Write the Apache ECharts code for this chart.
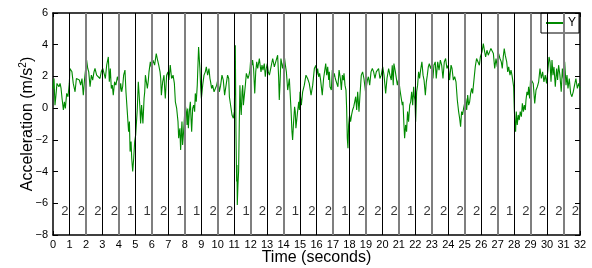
<!DOCTYPE html>
<html>
<head>
<meta charset="utf-8">
<script src="https://cdn.jsdelivr.net/npm/echarts@6/dist/echarts.min.js"></script>
<style>
  html, body { margin: 0; padding: 0; background: #fff; }
  #chart { width: 592px; height: 268px; }
</style>
</head>
<body>
<div id="chart"></div>
<script>
// time (s) and Y acceleration (m/s^2)
var times = [
  0.00, 0.06, 0.12, 0.18, 0.24, 0.30, 0.36, 0.43, 0.49, 0.55, 0.63, 0.69, 0.75, 0.83, 0.91, 0.99,
  1.03, 1.09, 1.15, 1.23, 1.34, 1.42, 1.50, 1.60, 1.68, 1.76, 1.84, 1.92,
  2.04, 2.11, 2.17, 2.25, 2.33, 2.41, 2.49, 2.55, 2.65, 2.73, 2.85, 2.93,
  3.02, 3.10, 3.18, 3.26, 3.36, 3.42, 3.48, 3.54, 3.60, 3.66, 3.74, 3.82, 3.91, 3.99,
  4.05, 4.11, 4.17, 4.23, 4.29, 4.37, 4.43, 4.51, 4.59, 4.64, 4.68, 4.74, 4.78, 4.84, 4.90, 4.96,
  5.02, 5.12, 5.18, 5.22, 5.28, 5.32, 5.38, 5.46, 5.53, 5.57, 5.61, 5.67, 5.73, 5.79, 5.83, 5.91, 5.97,
  6.07, 6.17, 6.27, 6.33, 6.42, 6.50, 6.54, 6.58, 6.66, 6.74, 6.78, 6.82, 6.90, 6.98,
  7.04, 7.12, 7.20, 7.29, 7.37, 7.43, 7.51, 7.59, 7.63, 7.67, 7.71, 7.73, 7.75, 7.79, 7.83, 7.87, 7.93, 7.99,
  8.03, 8.10, 8.14, 8.18, 8.22, 8.28, 8.34, 8.38, 8.42, 8.48, 8.54, 8.60, 8.64, 8.70, 8.76, 8.84, 8.92, 8.97,
  9.01, 9.09, 9.17, 9.25, 9.31, 9.39, 9.47, 9.53, 9.57, 9.63, 9.69, 9.78, 9.86, 9.94,
  10.02, 10.10, 10.18, 10.26, 10.34, 10.42, 10.50, 10.60, 10.67, 10.71, 10.79, 10.87, 10.95,
  11.01, 11.07, 11.11, 11.15, 11.17, 11.19, 11.23, 11.27, 11.31, 11.35, 11.39, 11.43, 11.48, 11.52, 11.56, 11.62, 11.68, 11.74, 11.80, 11.84, 11.90, 11.96,
  12.02, 12.08, 12.12, 12.18, 12.25, 12.31, 12.37, 12.43, 12.53, 12.59, 12.63, 12.69, 12.75, 12.79, 12.83, 12.89, 12.95,
  13.01, 13.07, 13.14, 13.24, 13.34, 13.44, 13.54, 13.64, 13.70, 13.74, 13.78, 13.84, 13.94,
  14.05, 14.11, 14.17, 14.25, 14.31, 14.35, 14.45, 14.51, 14.55, 14.61, 14.67, 14.71, 14.75, 14.84, 14.92, 14.96,
  15.00, 15.08, 15.16, 15.26, 15.36, 15.46, 15.56, 15.67, 15.77, 15.87, 15.97,
  16.01, 16.07, 16.13, 16.19, 16.25, 16.35, 16.43, 16.56, 16.62, 16.68, 16.74, 16.78, 16.82, 16.90, 16.96,
  17.02, 17.08, 17.14, 17.20, 17.26, 17.30, 17.37, 17.45, 17.51, 17.57, 17.63, 17.67, 17.73, 17.79, 17.83, 17.87, 17.91, 17.95,
  18.01, 18.07, 18.13, 18.19, 18.26, 18.32, 18.38, 18.44, 18.50, 18.58, 18.64, 18.72, 18.80, 18.88, 18.98,
  19.09, 19.15, 19.23, 19.31, 19.39, 19.47, 19.55, 19.63, 19.69, 19.77, 19.85, 19.93,
  20.02, 20.10, 20.20, 20.28, 20.38, 20.46, 20.54, 20.60, 20.66, 20.70, 20.79, 20.91, 20.99,
  21.07, 21.15, 21.21, 21.25, 21.31, 21.35, 21.41, 21.47, 21.53, 21.59, 21.66, 21.72, 21.78, 21.84, 21.90, 21.94, 21.98,
  22.02, 22.08, 22.14, 22.20, 22.26, 22.32, 22.40, 22.47, 22.53, 22.61, 22.67, 22.73, 22.79, 22.85, 22.93,
  23.01, 23.07, 23.13, 23.21, 23.27, 23.36, 23.44, 23.52, 23.60, 23.68, 23.76, 23.84, 23.92,
  24.00, 24.08, 24.17, 24.23, 24.31, 24.39, 24.47, 24.55, 24.63, 24.69, 24.75, 24.81, 24.87, 24.93, 24.99,
  25.06, 25.12, 25.18, 25.24, 25.30, 25.36, 25.42, 25.48, 25.56, 25.64, 25.72, 25.80, 25.89, 25.95,
  26.05, 26.13, 26.21, 26.27, 26.35, 26.43, 26.51, 26.59, 26.65, 26.74, 26.82, 26.90, 26.98,
  27.06, 27.14, 27.22, 27.28, 27.34, 27.40, 27.46, 27.55, 27.61, 27.67, 27.75, 27.81, 27.87, 27.93, 27.97,
  28.01, 28.05, 28.09, 28.13, 28.19, 28.25, 28.31, 28.37, 28.44, 28.50, 28.56, 28.62, 28.68, 28.72, 28.78, 28.84, 28.88, 28.94,
  29.00, 29.08, 29.16, 29.25, 29.33, 29.41, 29.49, 29.57, 29.65, 29.73, 29.81, 29.89, 29.97,
  30.05, 30.12, 30.18, 30.24, 30.30, 30.36, 30.42, 30.50, 30.58, 30.64, 30.70, 30.78, 30.86, 30.93, 30.99,
  31.07, 31.15, 31.21, 31.27, 31.35, 31.43, 31.51, 31.59, 31.67, 31.75, 31.84, 31.92, 32.00
];
var accY = [
  1.24, 1.87, 0.19, 0.82, 1.56, 1.66, 1.35, 1.56, 1.24, 0.61, -0.12, 0.40, -0.02, 0.93, 0.72, 1.56,
  2.50, 2.40, 2.29, 1.56, 1.03, 1.87, 1.98, 1.77, 1.45, 1.87, 0.82, 1.87,
  3.03, 2.50, 2.29, 1.35, 2.08, 1.77, 2.29, 2.50, 2.08, 2.19, 1.87, 2.29,
  2.50, 2.19, 1.87, 2.71, 3.23, 1.66, 2.50, 1.24, 1.45, 0.82, 1.66, 1.45, 1.98, 1.66,
  1.03, 1.56, 1.03, 1.35, 2.08, 2.40, 1.03, -0.22, -1.48, -0.85, -2.74, -2.11, -3.16, -4.00, -3.16, -2.11,
  -1.69, -0.02, 1.66, 1.03, -0.02, -0.96, 0.19, -0.96, 0.61, 1.03, 2.08, 2.19, 1.24, 1.77, 2.29, 2.92, 2.60,
  3.03, 2.71, 3.44, 3.13, 2.71, 2.29, 1.87, 0.82, 1.66, 2.08, 1.24, 0.61, 2.08, 2.29,
  1.77, 2.71, 1.87, 2.08, 1.56, 0.40, -0.02, -0.85, -1.90, -1.48, -1.27, -2.11, -2.64, -1.69, -0.85, -2.32, -1.48, -0.43,
  0.19, -0.22, -1.06, -0.02, -1.27, -0.22, 0.40, -0.64, -1.48, -0.02, 0.19, -0.22, 0.93, 0.40, 1.45, 3.86, 2.50, 1.24,
  0.61, 1.45, 2.08, 2.29, 2.60, 2.08, 2.50, 1.87, 1.66, 1.24, 1.45, 1.03, 1.24, 1.45,
  1.87, 1.03, 1.45, 2.08, 1.77, 0.82, 0.82, 2.08, 1.87, 0.72, 0.82, -0.43, -0.64,
  -0.22, 3.97, -1.48, -4.63, -3.58, -6.10, -4.84, -4.00, -1.06, 1.45, 0.19, -0.43, 1.03, 1.45, 0.19, 0.82, 1.45, 2.19, 2.29, 1.87, 2.08, 2.40,
  3.34, 2.71, 3.03, 2.50, 0.93, 2.29, 2.92, 2.50, 3.13, 2.60, 2.29, 2.71, 2.40, 2.60, 2.81, 1.98, 2.50,
  2.81, 2.29, 2.08, 2.60, 3.13, 2.60, 2.50, 3.34, 1.98, 0.51, 1.45, 3.13, 2.50,
  3.23, 2.71, 2.29, 1.14, 1.56, 1.87, -0.02, -1.48, -2.01, -0.85, 0.09, -0.22, -1.27, -0.33, 0.40, -0.12,
  1.03, 0.19, 1.03, 1.45, 2.08, 1.87, 1.56, 0.82, 1.45, 2.50, 2.71,
  2.08, 2.50, 1.98, 2.19, 1.77, 0.82, 1.87, 2.81, 2.08, 2.60, 1.77, 2.29, 1.35, 1.14, 2.40,
  1.87, 2.19, 1.87, 1.77, 1.98, 1.35, 2.40, 1.87, 1.14, 2.08, 1.77, 2.19, 1.45, 1.14, -0.02, -1.90, -2.53, -1.06,
  -0.43, -0.85, -0.43, -0.12, 0.09, 0.40, 0.72, -0.12, 1.03, -0.22, 0.82, 2.08, 2.29, 1.87, 1.03,
  1.77, 1.98, 1.45, 2.29, 2.50, 2.29, 1.87, 2.29, 2.40, 2.50, 1.87, 2.08,
  2.60, 2.08, 0.93, 1.87, 2.50, 2.08, 1.77, 2.71, 1.45, 2.81, 2.29, 1.45, 1.87,
  1.14, 1.03, 0.19, 0.40, -1.06, -1.90, -1.06, -1.48, -0.22, -0.85, 0.19, 0.40, 1.03, 0.19, 1.35, 0.72, 0.51,
  -0.85, 1.03, 1.45, 2.29, 1.87, 2.40, 2.92, 2.08, 1.77, 0.82, 1.66, 2.08, 2.60, 2.81, 2.50,
  2.81, 1.87, 2.71, 2.92, 1.87, 2.92, 2.40, 3.03, 2.71, 1.87, 2.92, 3.13, 2.50,
  2.71, 1.77, 2.71, 2.50, 1.77, 1.98, 1.66, 0.51, -0.22, -0.64, -1.17, -0.22, -0.43, -0.02, 0.09,
  0.61, -0.12, 0.82, 0.19, 0.40, 0.93, 1.24, 0.93, 1.77, 2.60, 3.13, 3.03, 2.71, 3.23,
  3.55, 4.07, 3.55, 3.23, 3.65, 3.34, 3.55, 3.76, 3.65, 3.44, 2.50, 3.13, 2.60,
  3.44, 3.13, 2.92, 2.50, 3.23, 3.76, 3.34, 2.92, 2.29, 2.60, 2.08, 2.40, 2.08, 1.66, 1.35,
  -0.02, -1.06, -1.48, -0.22, -1.06, -0.43, -0.75, -0.22, -0.54, 0.30, -0.22, 0.19, -0.12, 0.51, 1.03, 0.82, 1.35, 0.61,
  1.87, 1.98, 1.56, 0.30, 1.14, 1.35, 1.66, 2.50, 1.87, 2.29, 1.66, 2.08, 1.56,
  2.40, 3.23, 2.92, 1.66, 3.03, 2.08, 2.60, 1.35, 2.50, 1.77, 2.71, 2.08, 1.03, 2.50, 1.87,
  2.92, 1.45, 2.08, 1.24, 1.87, 0.93, 0.72, 1.03, 1.45, 1.87, 1.24, 1.56, 1.24
];
// activity class written in each 1-second window
var segLabels = [2, 2, 2, 2, 1, 1, 2, 1, 1, 2, 2, 1, 2, 2, 1, 2, 2, 1, 2, 2, 2, 1, 2, 2, 2, 2, 2, 1, 2, 2, 2, 2];
var boundaries = [];
for (var b = 1; b <= 31; b++) boundaries.push(b);
var labelLevel = -6.5;
var labelShift = 0.72;

var fontFam = "'Liberation Sans', Arial, sans-serif";
var signal = times.map(function (t, i) { return [t, accY[i]]; });

var boundaryLines = boundaries.map(function (b) {
    // black and grey window edges alternate, the pattern flips after 15 s
    var dark = b <= 15 ? (b % 2 === 1) : (b % 2 === 0);
    return {
        xAxis: b,
        lineStyle: dark ? { color: '#000', width: 1, type: 'solid' } : { color: '#7f7f7f', width: 2, type: 'solid' }
    };
});

var labelPts = segLabels.map(function (c, i) { return [i + labelShift, labelLevel, c]; });

var myChart = echarts.init(document.getElementById('chart'), null, { renderer: 'canvas' });
var axisTxt = { color: '#000', fontSize: 11, fontFamily: fontFam };
var minus = function (v) { return String(v).replace('-', '\u2212'); };

var option = {
    animation: false,
    textStyle: { fontFamily: fontFam },
    grid: { left: 53, right: 12, top: 13, bottom: 33, containLabel: false, outerBoundsMode: 'none' },
    legend: {
        right: 13, top: 13,
        data: [{ name: 'Y', itemStyle: { opacity: 0 } }],
        borderColor: '#000', borderWidth: 1, borderRadius: 0,
        padding: [4, 3, 4, 4],
        itemWidth: 18, itemHeight: 10, itemGap: 4,
        textStyle: { color: '#000', fontSize: 12, fontFamily: fontFam, padding: [0, 0, 0, -1] }
    },
    xAxis: [{
        type: 'value', min: 0, max: 32, interval: 1,
        name: 'Time (seconds)', nameLocation: 'middle', nameGap: 15, nameMoveOverlap: false,
        nameTextStyle: { color: '#000', fontSize: 16, fontFamily: fontFam },
        axisLine: { onZero: false, lineStyle: { color: '#000', width: 1.5 } },
        axisTick: { inside: true, length: 4, lineStyle: { color: '#000' } },
        axisLabel: Object.assign({ margin: 4 }, axisTxt),
        splitLine: { show: false }
    }, {
        type: 'value', min: 0, max: 32, interval: 1, position: 'top',
        axisLine: { onZero: false, lineStyle: { color: '#000', width: 1.5 } },
        axisTick: { inside: true, length: 4, lineStyle: { color: '#000' } },
        axisLabel: { show: false },
        splitLine: { show: false }
    }],
    yAxis: [{
        type: 'value', min: -8, max: 6, interval: 2,
        name: 'Acceleration (m/s{sup|2})', nameLocation: 'middle', nameGap: 16, nameMoveOverlap: false,
        nameTextStyle: {
            color: '#000', fontSize: 16, fontFamily: fontFam,
            rich: { sup: { fontSize: 10, verticalAlign: 'top', padding: [0, 0, 9, 0], fontFamily: fontFam, color: '#000' } }
        },
        axisLine: { onZero: false, lineStyle: { color: '#000', width: 1.5 } },
        axisTick: { inside: true, length: 5, lineStyle: { color: '#000' } },
        axisLabel: Object.assign({ margin: 5, formatter: minus }, axisTxt),
        splitLine: { show: false }
    }, {
        type: 'value', min: -8, max: 6, interval: 2, position: 'right',
        axisLine: { onZero: false, lineStyle: { color: '#000', width: 1.5 } },
        axisTick: { inside: true, length: 5, lineStyle: { color: '#000' } },
        axisLabel: { show: false },
        splitLine: { show: false }
    }],
    series: [{
        name: 'Y',
        type: 'line',
        data: signal,
        symbol: 'none',
        lineStyle: { color: '#008a00', width: 1.1 },
        itemStyle: { color: '#008a00' },
        z: 3,
        markLine: {
            silent: true,
            symbol: ['none', 'none'],
            label: { show: false },
            animation: false,
            data: boundaryLines
        }
    }, {
        name: 'class',
        type: 'scatter',
        data: labelPts,
        symbolSize: 1,
        itemStyle: { color: 'rgba(0,0,0,0)' },
        silent: true,
        label: {
            show: true, position: 'inside',
            formatter: function (p) { return p.value[2]; },
            color: '#000', fontSize: 13, fontFamily: fontFam
        },
        z: 4
    }]
};

myChart.setOption(option);
</script>
</body>
</html>
